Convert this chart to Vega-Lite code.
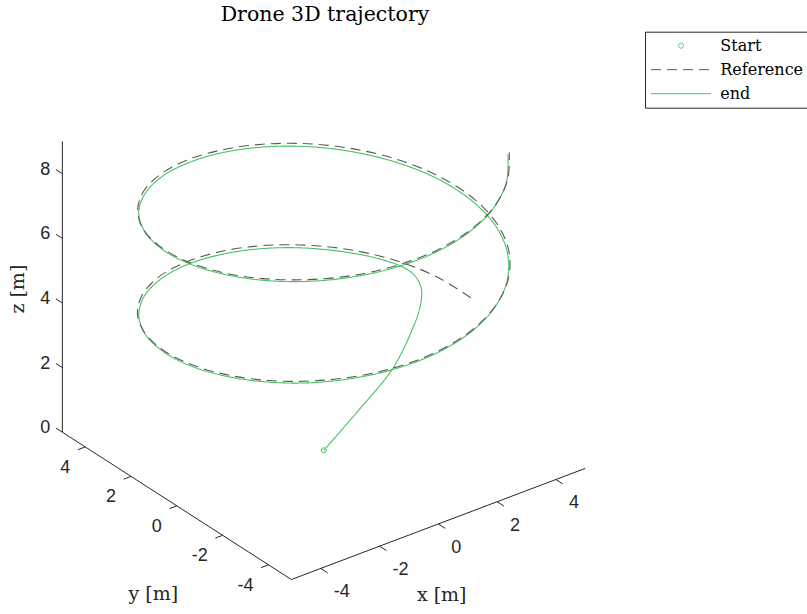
{
"$schema": "https://vega.github.io/schema/vega-lite/v6.json",
"width": 807, "height": 614, "autosize": {"type": "none"}, "padding": 0,
"background": "white",
"config": {"view": {"stroke": null},
 "legend": {"orient": "none", "legendX": 645, "legendY": 31.7, "labelFont": "DejaVu Serif", "labelFontSize": 16, "labelColor": "#000000", "symbolSize": 25, "symbolOffset": 22, "labelOffset": 31.3, "rowPadding": 8, "padding": 6, "strokeColor": "#262626", "fillColor": "white", "symbolStrokeWidth": 1}},
"title": {"text": "Drone 3D trajectory", "font": "DejaVu Serif", "fontSize": 20.5, "fontWeight": "normal", "color": "#000000", "anchor": "middle", "frame": "group", "offset": -41, "baseline": "alphabetic", "dx": -78.5},
"data": {"values": [
{"kind":"axis","x":-5,"y":5,"z":0,"x2":-5,"y2":5,"z2":9},
{"kind":"axis","x":-5,"y":5,"z":0,"x2":-5,"y2":-5,"z2":0},
{"kind":"axis","x":-5,"y":-5,"z":0,"x2":5,"y2":-5,"z2":0},
{"kind":"axis","x":-5,"y":5,"z":0,"x2":-5,"y2":5.28,"z2":0},
{"kind":"axis","x":-5,"y":5,"z":2,"x2":-5,"y2":5.28,"z2":2},
{"kind":"axis","x":-5,"y":5,"z":4,"x2":-5,"y2":5.28,"z2":4},
{"kind":"axis","x":-5,"y":5,"z":6,"x2":-5,"y2":5.28,"z2":6},
{"kind":"axis","x":-5,"y":5,"z":8,"x2":-5,"y2":5.28,"z2":8},
{"kind":"axis","x":-5,"y":-4,"z":0,"x2":-5.25,"y2":-4,"z2":0},
{"kind":"axis","x":-5,"y":-2,"z":0,"x2":-5.25,"y2":-2,"z2":0},
{"kind":"axis","x":-5,"y":0,"z":0,"x2":-5.25,"y2":0,"z2":0},
{"kind":"axis","x":-5,"y":2,"z":0,"x2":-5.25,"y2":2,"z2":0},
{"kind":"axis","x":-5,"y":4,"z":0,"x2":-5.25,"y2":4,"z2":0},
{"kind":"axis","x":-4,"y":-5,"z":0,"x2":-4,"y2":-5.3,"z2":0},
{"kind":"axis","x":-2,"y":-5,"z":0,"x2":-2,"y2":-5.3,"z2":0},
{"kind":"axis","x":0,"y":-5,"z":0,"x2":0,"y2":-5.3,"z2":0},
{"kind":"axis","x":2,"y":-5,"z":0,"x2":2,"y2":-5.3,"z2":0},
{"kind":"axis","x":4,"y":-5,"z":0,"x2":4,"y2":-5.3,"z2":0},
{"kind":"zlab","x":-5,"y":5,"z":0,"label":"0"},
{"kind":"zlab","x":-5,"y":5,"z":2,"label":"2"},
{"kind":"zlab","x":-5,"y":5,"z":4,"label":"4"},
{"kind":"zlab","x":-5,"y":5,"z":6,"label":"6"},
{"kind":"zlab","x":-5,"y":5,"z":8,"label":"8"},
{"kind":"ylab","x":-5,"y":-4,"z":0,"label":"-4"},
{"kind":"ylab","x":-5,"y":-2,"z":0,"label":"-2"},
{"kind":"ylab","x":-5,"y":0,"z":0,"label":"0"},
{"kind":"ylab","x":-5,"y":2,"z":0,"label":"2"},
{"kind":"ylab","x":-5,"y":4,"z":0,"label":"4"},
{"kind":"xlab","x":-4,"y":-5,"z":0,"label":"-4"},
{"kind":"xlab","x":-2,"y":-5,"z":0,"label":"-2"},
{"kind":"xlab","x":0,"y":-5,"z":0,"label":"0"},
{"kind":"xlab","x":2,"y":-5,"z":0,"label":"2"},
{"kind":"xlab","x":4,"y":-5,"z":0,"label":"4"},
{"kind":"xtitle","x":0,"y":-5,"z":0,"label":"x [m]"},
{"kind":"ytitle","x":-5,"y":0,"z":0,"label":"y [m]"},
{"kind":"ztitle","x":-5,"y":5,"z":4.5,"label":"z [m]"},
{"kind":"pt","series":"Start","t":0,"x":0,"y":0,"z":0},
{"kind":"traj","series":"Reference","t":0,"x":5,"y":0,"z":3},
{"kind":"traj","series":"Reference","t":0.25,"x":4.84,"y":1.24,"z":3.125},
{"kind":"traj","series":"Reference","t":0.5,"x":4.39,"y":2.4,"z":3.25},
{"kind":"traj","series":"Reference","t":0.75,"x":3.66,"y":3.41,"z":3.375},
{"kind":"traj","series":"Reference","t":1,"x":2.7,"y":4.21,"z":3.5},
{"kind":"traj","series":"Reference","t":1.25,"x":1.58,"y":4.75,"z":3.625},
{"kind":"traj","series":"Reference","t":1.5,"x":0.35,"y":4.99,"z":3.75},
{"kind":"traj","series":"Reference","t":1.75,"x":-0.89,"y":4.92,"z":3.875},
{"kind":"traj","series":"Reference","t":2,"x":-2.08,"y":4.55,"z":4},
{"kind":"traj","series":"Reference","t":2.25,"x":-3.14,"y":3.89,"z":4.125},
{"kind":"traj","series":"Reference","t":2.5,"x":-4.01,"y":2.99,"z":4.25},
{"kind":"traj","series":"Reference","t":2.75,"x":-4.62,"y":1.91,"z":4.375},
{"kind":"traj","series":"Reference","t":3,"x":-4.95,"y":0.71,"z":4.5},
{"kind":"traj","series":"Reference","t":3.25,"x":-4.97,"y":-0.54,"z":4.625},
{"kind":"traj","series":"Reference","t":3.5,"x":-4.68,"y":-1.75,"z":4.75},
{"kind":"traj","series":"Reference","t":3.75,"x":-4.1,"y":-2.86,"z":4.875},
{"kind":"traj","series":"Reference","t":4,"x":-3.27,"y":-3.78,"z":5},
{"kind":"traj","series":"Reference","t":4.25,"x":-2.23,"y":-4.48,"z":5.125},
{"kind":"traj","series":"Reference","t":4.5,"x":-1.05,"y":-4.89,"z":5.25},
{"kind":"traj","series":"Reference","t":4.75,"x":0.19,"y":-5,"z":5.375},
{"kind":"traj","series":"Reference","t":5,"x":1.42,"y":-4.79,"z":5.5},
{"kind":"traj","series":"Reference","t":5.25,"x":2.56,"y":-4.29,"z":5.625},
{"kind":"traj","series":"Reference","t":5.5,"x":3.54,"y":-3.53,"z":5.75},
{"kind":"traj","series":"Reference","t":5.75,"x":4.31,"y":-2.54,"z":5.875},
{"kind":"traj","series":"Reference","t":6,"x":4.8,"y":-1.4,"z":6},
{"kind":"traj","series":"Reference","t":6.25,"x":5,"y":-0.17,"z":6.125},
{"kind":"traj","series":"Reference","t":6.5,"x":4.88,"y":1.08,"z":6.25},
{"kind":"traj","series":"Reference","t":6.75,"x":4.47,"y":2.25,"z":6.375},
{"kind":"traj","series":"Reference","t":7,"x":3.77,"y":3.29,"z":6.5},
{"kind":"traj","series":"Reference","t":7.25,"x":2.84,"y":4.12,"z":6.625},
{"kind":"traj","series":"Reference","t":7.5,"x":1.73,"y":4.69,"z":6.75},
{"kind":"traj","series":"Reference","t":7.75,"x":0.52,"y":4.97,"z":6.875},
{"kind":"traj","series":"Reference","t":8,"x":-0.73,"y":4.95,"z":7},
{"kind":"traj","series":"Reference","t":8.25,"x":-1.93,"y":4.61,"z":7.125},
{"kind":"traj","series":"Reference","t":8.5,"x":-3.01,"y":3.99,"z":7.25},
{"kind":"traj","series":"Reference","t":8.75,"x":-3.9,"y":3.12,"z":7.375},
{"kind":"traj","series":"Reference","t":9,"x":-4.56,"y":2.06,"z":7.5},
{"kind":"traj","series":"Reference","t":9.25,"x":-4.92,"y":0.87,"z":7.625},
{"kind":"traj","series":"Reference","t":9.5,"x":-4.99,"y":-0.38,"z":7.75},
{"kind":"traj","series":"Reference","t":9.75,"x":-4.74,"y":-1.6,"z":7.875},
{"kind":"traj","series":"Reference","t":10,"x":-4.2,"y":-2.72,"z":8},
{"kind":"traj","series":"Reference","t":10.25,"x":-3.39,"y":-3.67,"z":8.125},
{"kind":"traj","series":"Reference","t":10.5,"x":-2.38,"y":-4.4,"z":8.25},
{"kind":"traj","series":"Reference","t":10.75,"x":-1.22,"y":-4.85,"z":8.375},
{"kind":"traj","series":"Reference","t":11,"x":0.02,"y":-5,"z":8.5},
{"kind":"traj","series":"Reference","t":11.25,"x":1.26,"y":-4.84,"z":8.625},
{"kind":"traj","series":"Reference","t":11.5,"x":2.42,"y":-4.38,"z":8.75},
{"kind":"traj","series":"Reference","t":11.75,"x":3.42,"y":-3.64,"z":8.875},
{"kind":"traj","series":"Reference","t":12,"x":4.22,"y":-2.68,"z":9},
{"kind":"traj","series":"end","t":0,"x":0,"y":0,"z":0},
{"kind":"traj","series":"end","t":0.05,"x":1.21,"y":0.1,"z":0.72},
{"kind":"traj","series":"end","t":0.1,"x":2.41,"y":0.2,"z":1.49},
{"kind":"traj","series":"end","t":0.15,"x":2.93,"y":0.3,"z":1.96},
{"kind":"traj","series":"end","t":0.2,"x":3.31,"y":0.4,"z":2.4},
{"kind":"traj","series":"end","t":0.25,"x":3.63,"y":0.55,"z":2.69},
{"kind":"traj","series":"end","t":0.3,"x":3.95,"y":0.8,"z":3.0},
{"kind":"traj","series":"end","t":0.35,"x":4.09,"y":1.0,"z":3.16},
{"kind":"traj","series":"end","t":0.4,"x":4.3,"y":1.5,"z":3.2},
{"kind":"traj","series":"end","t":0.45,"x":4.32,"y":2.0,"z":3.24},
{"kind":"traj","series":"end","t":0.6,"x":4.1,"y":2.8,"z":3.23},
{"kind":"traj","series":"end","t":0.75,"x":3.63,"y":3.39,"z":3.305},
{"kind":"traj","series":"end","t":1,"x":2.68,"y":4.18,"z":3.43},
{"kind":"traj","series":"end","t":1.25,"x":1.57,"y":4.71,"z":3.555},
{"kind":"traj","series":"end","t":1.5,"x":0.35,"y":4.95,"z":3.68},
{"kind":"traj","series":"end","t":1.75,"x":-0.88,"y":4.89,"z":3.805},
{"kind":"traj","series":"end","t":2,"x":-2.07,"y":4.51,"z":3.93},
{"kind":"traj","series":"end","t":2.25,"x":-3.12,"y":3.86,"z":4.055},
{"kind":"traj","series":"end","t":2.5,"x":-3.98,"y":2.97,"z":4.18},
{"kind":"traj","series":"end","t":2.75,"x":-4.59,"y":1.9,"z":4.305},
{"kind":"traj","series":"end","t":3,"x":-4.92,"y":0.7,"z":4.43},
{"kind":"traj","series":"end","t":3.25,"x":-4.94,"y":-0.54,"z":4.555},
{"kind":"traj","series":"end","t":3.5,"x":-4.65,"y":-1.74,"z":4.68},
{"kind":"traj","series":"end","t":3.75,"x":-4.07,"y":-2.84,"z":4.805},
{"kind":"traj","series":"end","t":4,"x":-3.25,"y":-3.76,"z":4.93},
{"kind":"traj","series":"end","t":4.25,"x":-2.21,"y":-4.44,"z":5.055},
{"kind":"traj","series":"end","t":4.5,"x":-1.05,"y":-4.85,"z":5.18},
{"kind":"traj","series":"end","t":4.75,"x":0.19,"y":-4.96,"z":5.305},
{"kind":"traj","series":"end","t":5,"x":1.41,"y":-4.76,"z":5.43},
{"kind":"traj","series":"end","t":5.25,"x":2.54,"y":-4.26,"z":5.555},
{"kind":"traj","series":"end","t":5.5,"x":3.52,"y":-3.5,"z":5.68},
{"kind":"traj","series":"end","t":5.75,"x":4.28,"y":-2.52,"z":5.805},
{"kind":"traj","series":"end","t":6,"x":4.77,"y":-1.39,"z":5.93},
{"kind":"traj","series":"end","t":6.25,"x":4.96,"y":-0.16,"z":6.055},
{"kind":"traj","series":"end","t":6.5,"x":4.85,"y":1.07,"z":6.18},
{"kind":"traj","series":"end","t":6.75,"x":4.43,"y":2.23,"z":6.305},
{"kind":"traj","series":"end","t":7,"x":3.74,"y":3.26,"z":6.43},
{"kind":"traj","series":"end","t":7.25,"x":2.82,"y":4.09,"z":6.555},
{"kind":"traj","series":"end","t":7.5,"x":1.72,"y":4.66,"z":6.68},
{"kind":"traj","series":"end","t":7.75,"x":0.52,"y":4.94,"z":6.805},
{"kind":"traj","series":"end","t":8,"x":-0.72,"y":4.91,"z":6.93},
{"kind":"traj","series":"end","t":8.25,"x":-1.92,"y":4.58,"z":7.055},
{"kind":"traj","series":"end","t":8.5,"x":-2.99,"y":3.96,"z":7.18},
{"kind":"traj","series":"end","t":8.75,"x":-3.88,"y":3.1,"z":7.305},
{"kind":"traj","series":"end","t":9,"x":-4.52,"y":2.05,"z":7.43},
{"kind":"traj","series":"end","t":9.25,"x":-4.89,"y":0.87,"z":7.555},
{"kind":"traj","series":"end","t":9.5,"x":-4.95,"y":-0.37,"z":7.68},
{"kind":"traj","series":"end","t":9.75,"x":-4.7,"y":-1.59,"z":7.805},
{"kind":"traj","series":"end","t":10,"x":-4.17,"y":-2.7,"z":7.93},
{"kind":"traj","series":"end","t":10.25,"x":-3.37,"y":-3.65,"z":8.055},
{"kind":"traj","series":"end","t":10.5,"x":-2.36,"y":-4.37,"z":8.18},
{"kind":"traj","series":"end","t":10.75,"x":-1.21,"y":-4.82,"z":8.305},
{"kind":"traj","series":"end","t":11,"x":0.02,"y":-4.97,"z":8.43},
{"kind":"traj","series":"end","t":11.25,"x":1.25,"y":-4.81,"z":8.555},
{"kind":"traj","series":"end","t":11.5,"x":2.4,"y":-4.35,"z":8.68},
{"kind":"traj","series":"end","t":11.75,"x":3.4,"y":-3.62,"z":8.805},
{"kind":"traj","series":"end","t":12,"x":4.19,"y":-2.66,"z":8.93}
]},
"transform": [
 {"calculate": "0.788*datum.x - 0.614*datum.y", "as": "u"},
 {"calculate": "0.298*datum.x + 0.395*datum.y + 0.866*datum.z", "as": "v"},
 {"calculate": "0.788*datum.x2 - 0.614*datum.y2", "as": "u2"},
 {"calculate": "0.298*datum.x2 + 0.395*datum.y2 + 0.866*datum.z2", "as": "v2"}
],
"encoding": {
 "x": {"field": "u", "type": "quantitative", "scale": {"domain": [-8.681, 12.954], "nice": false, "zero": false}, "axis": null},
 "y": {"field": "v", "type": "quantitative", "scale": {"domain": [-4.389, 12.072], "nice": false, "zero": false}, "axis": null}
},
"layer": [
 {"transform": [{"filter": "datum.kind === 'axis'"}],
  "mark": {"type": "rule", "color": "#262626", "strokeWidth": 1},
  "encoding": {"x2": {"field": "u2"}, "y2": {"field": "v2"}}},
 {"transform": [{"filter": "datum.series === 'end' && datum.kind === 'traj'"}],
  "mark": {"type": "line", "strokeWidth": 1.1, "interpolate": "catmull-rom"},
  "encoding": {
   "color": {"field": "series", "type": "nominal", "scale": {"domain": ["Start", "Reference", "end"], "range": ["#47c25f", "#595959", "#47c25f"]}, "legend": {"title": null}},
   "strokeDash": {"field": "series", "type": "nominal", "scale": {"domain": ["Start", "Reference", "end"], "range": [[1, 0], [10, 6], [1, 0]]}, "legend": {"title": null}},
   "order": {"field": "t", "type": "quantitative"}}},
 {"transform": [{"filter": "datum.series === 'Reference'"}],
  "mark": {"type": "line", "strokeWidth": 1.1, "interpolate": "catmull-rom"},
  "encoding": {
   "color": {"field": "series", "type": "nominal", "scale": {"domain": ["Start", "Reference", "end"], "range": ["#47c25f", "#595959", "#47c25f"]}, "legend": {"title": null}},
   "strokeDash": {"field": "series", "type": "nominal", "scale": {"domain": ["Start", "Reference", "end"], "range": [[1, 0], [10, 6], [1, 0]]}, "legend": {"title": null}},
   "order": {"field": "t", "type": "quantitative"}}},
 {"transform": [{"filter": "datum.kind === 'pt'"}],
  "mark": {"type": "point", "filled": false, "size": 25, "strokeWidth": 1, "opacity": 1},
  "encoding": {
   "color": {"field": "series", "type": "nominal", "scale": {"domain": ["Start", "Reference", "end"], "range": ["#47c25f", "#595959", "#47c25f"]}, "legend": {"title": null}},
   "shape": {"field": "series", "type": "nominal", "scale": {"domain": ["Start", "Reference", "end"], "range": ["circle", "M-12,0L12,0", "M-12,0L12,0"]}, "legend": {"title": null}}}},
 {"transform": [{"filter": "datum.kind === 'zlab'"}],
  "mark": {"type": "text", "align": "right", "baseline": "middle", "dx": -12, "dy": -4, "font": "Liberation Sans", "fontSize": 18, "color": "#262626"},
  "encoding": {"text": {"field": "label"}}},
 {"transform": [{"filter": "datum.kind === 'ylab'"}],
  "mark": {"type": "text", "align": "right", "baseline": "middle", "dx": -15, "dy": 21, "font": "Liberation Sans", "fontSize": 18, "color": "#262626"},
  "encoding": {"text": {"field": "label"}}},
 {"transform": [{"filter": "datum.kind === 'xlab'"}],
  "mark": {"type": "text", "align": "left", "baseline": "middle", "dx": 13, "dy": 24, "font": "Liberation Sans", "fontSize": 18, "color": "#262626"},
  "encoding": {"text": {"field": "label"}}},
 {"transform": [{"filter": "datum.kind === 'xtitle'"}],
  "mark": {"type": "text", "align": "center", "baseline": "middle", "dx": 3.4, "dy": 71, "font": "DejaVu Serif", "fontSize": 19, "color": "#262626"},
  "encoding": {"text": {"field": "label"}}},
 {"transform": [{"filter": "datum.kind === 'ytitle'"}],
  "mark": {"type": "text", "align": "center", "baseline": "middle", "dx": -23.5, "dy": 88, "font": "DejaVu Serif", "fontSize": 19, "color": "#262626"},
  "encoding": {"text": {"field": "label"}}},
 {"transform": [{"filter": "datum.kind === 'ztitle'"}],
  "mark": {"type": "text", "align": "center", "baseline": "middle", "angle": 270, "dx": -2.3, "dy": -44, "font": "DejaVu Serif", "fontSize": 19, "color": "#262626"},
  "encoding": {"text": {"field": "label"}}}
]
}
